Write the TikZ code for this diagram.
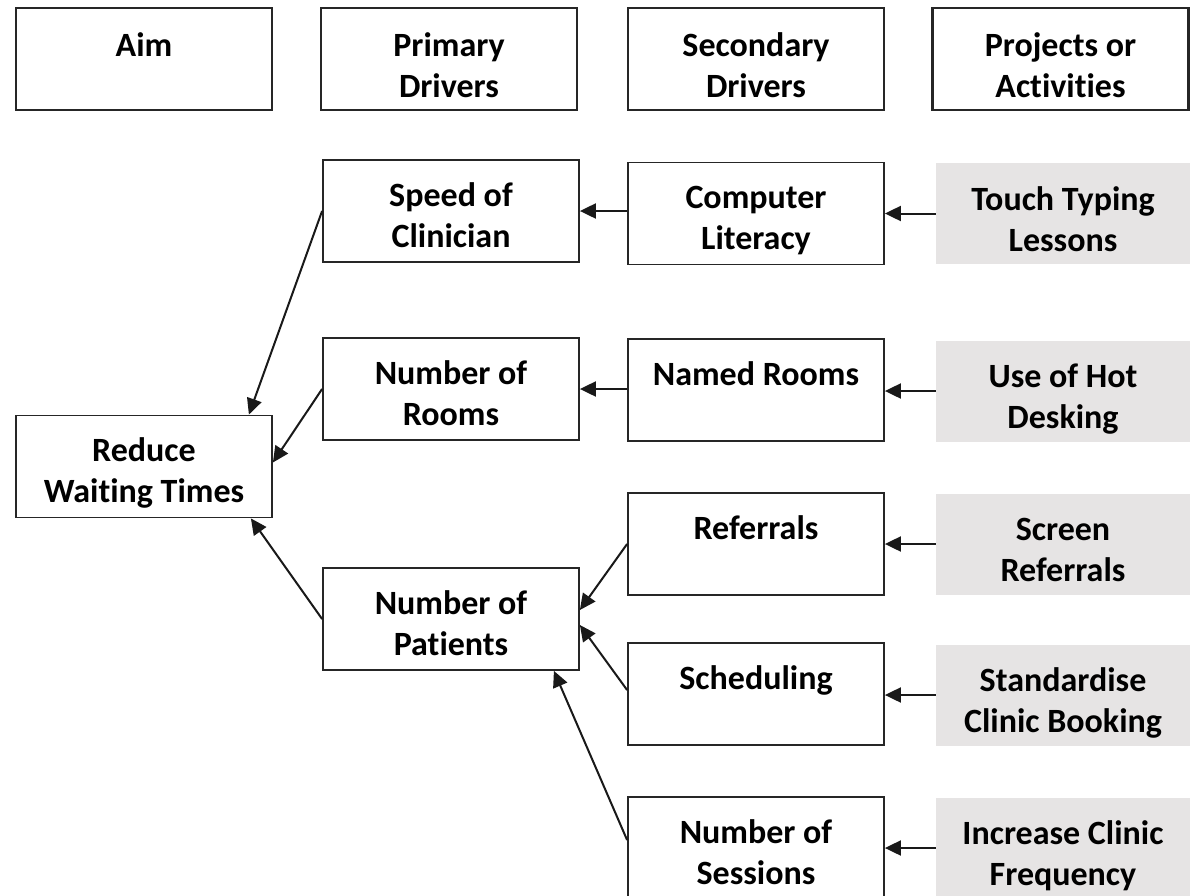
\documentclass[tikz,border=0pt]{standalone}
\usepackage{fontspec}
\setmainfont{Carlito}[Ligatures=NoCommon]
\usetikzlibrary{arrows.meta}

\definecolor{actgray}{RGB}{230,228,228}

\tikzset{
  cell/.style={draw=black!85, line width=1.8pt, minimum width=256pt, minimum height=102pt, inner sep=0pt},
  head/.style={cell, line width=2.8pt},
  act/.style={fill=actgray, minimum width=254pt, minimum height=101pt, inner sep=0pt},
  lbl/.style={anchor=north, inner sep=0pt, align=center, font=\bfseries\fontsize{34}{41}\selectfont},
  txt/.style={label={[lbl, yshift=-22pt]north:\rule{0pt}{25pt}#1}},
  htxt/.style={label={[lbl, yshift=-25pt]north:\rule{0pt}{25pt}#1}},
  link/.style={draw=black!90, line width=2pt, -{Triangle[length=16pt,width=15pt]}}
}

\begin{document}
\begin{tikzpicture}[x=1pt, y=-1pt]
\useasboundingbox[fill=white] (0,0) rectangle (1195,895);

% column headings
\node[head, htxt={Aim}] (aim) at (144,59) {};
\node[head, htxt={Primary\\Drivers}] (prim) at (449,59) {};
\node[head, htxt={Secondary\\Drivers}] (sec) at (756,59) {};
\node[head, htxt={Projects or\\Activities}] (proj) at (1060.5,59) {};

% aim
\node[cell, txt={Reduce\\Waiting Times}] (reduce) at (144,466.5) {};

% primary drivers
\node[cell, txt={Speed of\\Clinician}] (speed) at (451,211) {};
\node[cell, txt={Number of\\Rooms}] (rooms) at (451,389) {};
\node[cell, txt={Number of\\Patients}] (patients) at (451,619) {};

% secondary drivers
\node[cell, txt={Computer\\Literacy}] (literacy) at (756,213.5) {};
\node[cell, txt={Named Rooms}] (named) at (756,390) {};
\node[cell, txt={Referrals}] (referrals) at (756,544) {};
\node[cell, txt={Scheduling}] (sched) at (756,694) {};
\node[cell, txt={Number of\\Sessions}] (sessions) at (756,848) {};

% projects
\node[act, txt={Touch Typing\\Lessons}] (typing) at (1063,213.5) {};
\node[act, txt={Use of Hot\\Desking}] (hotdesk) at (1063,391) {};
\node[act, txt={Screen\\Referrals}] (screen) at (1063,544) {};
\node[act, txt={Standardise\\Clinic Booking}] (booking) at (1063,695) {};
\node[act, txt={Increase Clinic\\Frequency}] (freq) at (1063,848) {};

% connectors
\draw[link] (typing.west) -- (typing.west -| literacy.east);
\draw[link] (hotdesk.west) -- (hotdesk.west -| named.east);
\draw[link] (screen.west) -- (screen.west -| referrals.east);
\draw[link] (booking.west) -- (booking.west -| sched.east);
\draw[link] (freq.west) -- (freq.west -| sessions.east);

\draw[link] (speed.east -| literacy.west) -- (speed.east);
\draw[link] (rooms.east -| named.west) -- (rooms.east);
\draw[link] (referrals.west) -- ([yshift=9pt]patients.east);
\draw[link] ([yshift=4pt]sched.west) -- ([yshift=-6pt]patients.east);
\draw[link] ([yshift=8pt]sessions.west) -- ([xshift=-26pt]patients.south east);

\draw[link] (speed.west) -- ([xshift=-24pt]reduce.north east);
\draw[link] (rooms.west) -- ([yshift=4pt]reduce.east);
\draw[link] (patients.west) -- ([xshift=-22pt]reduce.south east);

\end{tikzpicture}
\end{document}
